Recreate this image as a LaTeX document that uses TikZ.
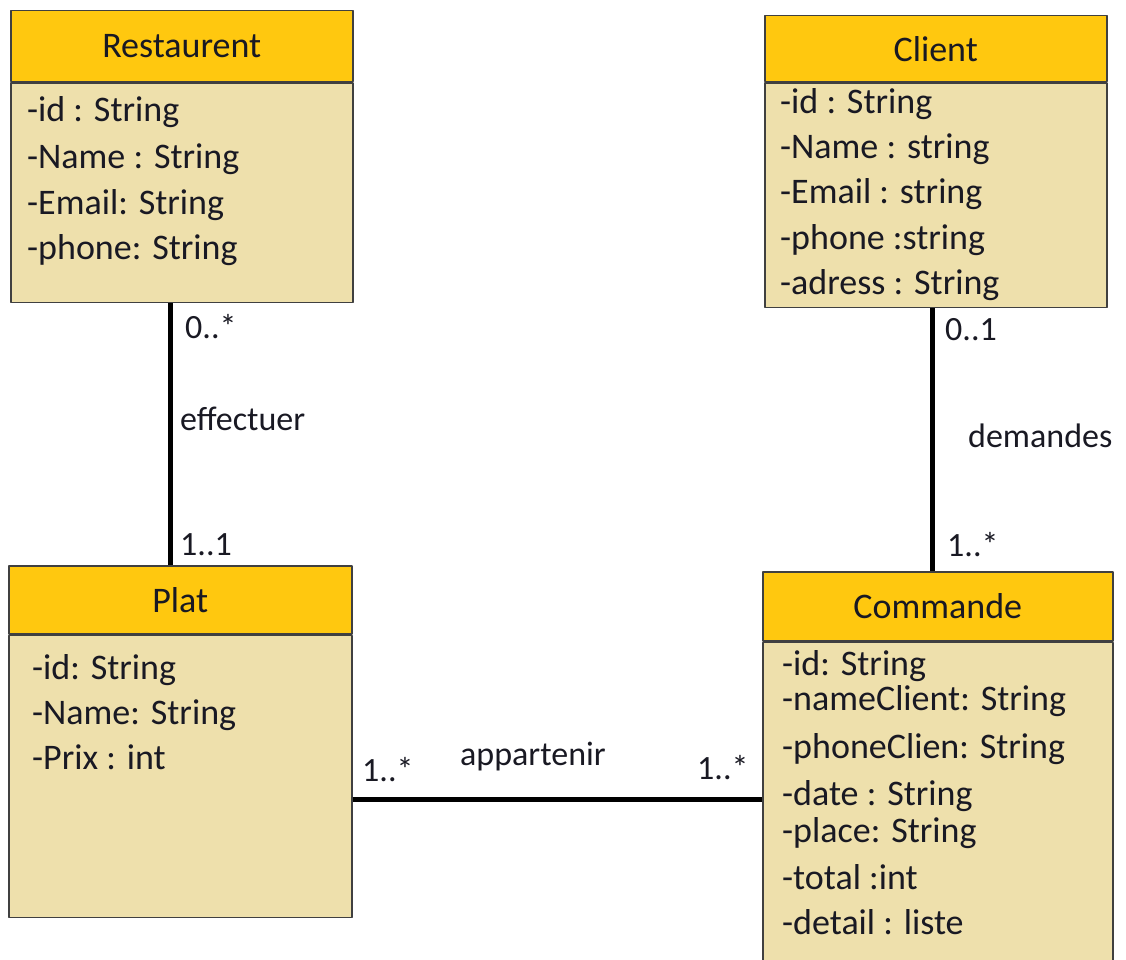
\documentclass[tikz,border=0pt]{standalone}
\usepackage{fontspec}
\setmainfont{Carlito}
\definecolor{headfill}{RGB}{255,200,15}
\definecolor{bodyfill}{RGB}{238,224,172}
\definecolor{ink}{RGB}{25,25,35}
\begin{document}
\begin{tikzpicture}[x=1pt, y=-1pt, line join=round,
	font=\fontsize{36}{45}\selectfont, text=ink,
	head/.style={draw=black!75, line width=1.5pt, fill=headfill, anchor=north west, inner sep=0pt},
	body/.style={draw=black!75, line width=1.5pt, fill=bodyfill, anchor=north west, inner sep=0pt},
	attr/.style={anchor=base west, inner sep=0pt},
	mult/.style={anchor=west, inner sep=0pt, font=\fontsize{34}{40}\selectfont},
	assoc/.style={line width=5pt}]
	\useasboundingbox (0,0) rectangle (1126,960);
	%Restaurent
	\node[head, minimum width=342pt, minimum height=71pt] (restHead) at (10,10) {Restaurent};
	\node[body, minimum width=342pt, minimum height=219pt] (restBody) at (restHead.south west) {};
	\foreach \t/\y [count=\i] in {-id : String/39, -Name : String/86, -Email: String/132, -phone: String/177}
	\node[attr] (restAttr\i) at ([shift={(17,\y)}]restBody.north west) {\t};
	%Client
	\node[head, minimum width=342pt, minimum height=66pt] (clientHead) at (764,15) {Client};
	\node[body, minimum width=342pt, minimum height=224pt] (clientBody) at (clientHead.south west) {};
	\foreach \t/\y [count=\i] in {-id : String/31, -Name : string/76, -Email : string/121, -phone :string/167, -adress : String/212}
	\node[attr] (clientAttr\i) at ([shift={(16,\y)}]clientBody.north west) {\t};
	%Plat
	\node[head, minimum width=343pt, minimum height=68pt] (platHead) at (8,565) {Plat};
	\node[body, minimum width=343pt, minimum height=282pt] (platBody) at (platHead.south west) {};
	\foreach \t/\y [count=\i] in {-id: String/45, -Name: String/90, -Prix : int/135}
	\node[attr] (platAttr\i) at ([shift={(24,\y)}]platBody.north west) {\t};
	%Commande
	\node[head, minimum width=350pt, minimum height=69pt] (cmdHead) at (762,571) {Commande};
	\node[body, minimum width=350pt, minimum height=330pt] (cmdBody) at (cmdHead.south west) {};
	\foreach \t/\y [count=\i] in {-id: String/34, -nameClient: String/69, -phoneClien: String/117,
		-date : String/164, -place: String/201, -total :int/248, -detail : liste/293}
	\node[attr] (cmdAttr\i) at ([shift={(20,\y)}]cmdBody.north west) {\t};
	%Associations
	\coordinate (restPort) at ([xshift=-11pt]restBody.south);
	\coordinate (clientPort) at ([xshift=-3pt]clientBody.south);
	\coordinate (platPort) at ([yshift=-23pt]platBody.east);
	\draw[assoc] (restPort) -- (restPort |- platHead.north);
	\draw[assoc] (clientPort) -- (clientPort |- cmdHead.north);
	\draw[assoc] (platPort) -- (platPort -| cmdBody.west);
	%Multiplicites
	\node[mult] (restMult) at (185,327) {0..*};
	\node[mult] (effLabel) at (180,419) {effectuer};
	\node[mult] (platMultA) at (180,545) {1..1};
	\node[mult] (clientMult) at (945,330) {0..1};
	\node[mult] (demLabel) at (968,436) {demandes};
	\node[mult] (cmdMultA) at (947,545) {1..*};
	\node[mult] (platMultB) at (362,770) {1..*};
	\node[mult] (appLabel) at (460,757) {appartenir};
	\node[mult] (cmdMultB) at (697,768) {1..*};
\end{tikzpicture}
\end{document}
